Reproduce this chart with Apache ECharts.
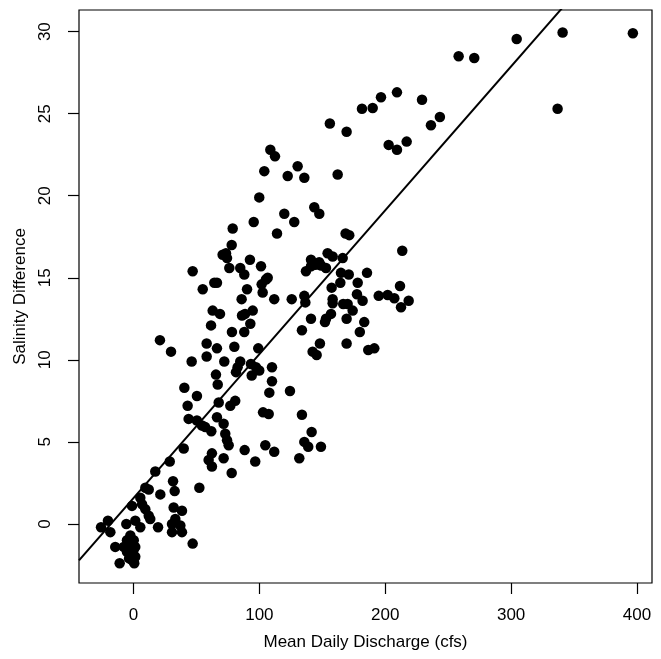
<!DOCTYPE html>
<html><head><meta charset="utf-8">
<script src="https://cdn.jsdelivr.net/npm/echarts@6/dist/echarts.min.js"></script>
<style>html,body{margin:0;padding:0;background:#fff}#c{width:661px;height:659px}</style>
</head><body><div id="c"></div>
<script>
// Mean daily discharge (cfs) of each observation
const dischargeX = [
  -25.8,-20.3,-18.4,-14.5,-11,-7.8,-5.7,-5.2,-5.2,-2.5,-2.5,-1.2,-1.2,0.2,1.4,1.4,0.6,-1.2,1.4,5.4,
  5.4,6.8,9.4,12.1,13.3,9.4,12.1,19.5,21.3,17.3,28.8,31.4,32.7,31.9,38.5,33.2,30.6,37.2,30.6,38.5,
  47,52.3,-3.5,0,
  39.9,43,43.8,50.4,54.4,57,61.8,66.3,67.7,71.6,72.9,74.3,75.6,76.9,80.8,62.3,59.7,62.3,71.6,78,
  88.3,96.7,104.7,111.8,102.9,107.4,133.8,141.5,135.7,138.8,148.9,131.7,50.4,40.4,
  66.9,65.5,107.9,124.3,110,110,93.3,97.3,99.9,93.9,84.8,82.7,81.4,72.1,46.2,58.1,58.1,66.3,80.1,99.1,
  29.8,21,78.2,88,61.6,92.8,86.2,88.6,62.9,68.7,94.7,85.9,111.8,125.7,135.7,136.5,133.8,141,148.1,142.3,
  145.5,152.9,152.1,156.9,169.3,183.3,179.8,169.3,186.5,191.3,158.2,158.2,166.6,170.1,174.1,177.5,182,194.8,201.9,207.2,
  218.6,212.5,
  55,64.2,66.3,90.2,102.6,101.8,105.2,106.6,47,76.1,84.8,88,101.3,92.5,70.8,74.3,73.5,78,78.8,114,
  137,141,141,144.5,147.5,149,152.9,154.2,158.2,166.2,164.8,171,185.5,178.1,164.3,157.4,211.7,213.5,168.5,171.4,
  95.5,127.7,119.8,143.6,147.6,99.9,103.9,122.5,130.4,135.7,162.2,108.7,112.4,169.3,156,202.7,209.3,217,236.3,243.4,
  229.2,181.5,190,196.6,209.3,258.3,270.7,304.4,340.9,336.9,396.7
];
// Salinity difference of each observation
const salinityY = [
  -0.2,0.2,-0.5,-1.4,-2.4,-1.4,0.0,-1.0,-1.7,-0.7,-1.4,-1.8,-2.2,-1.0,-1.4,-2.0,-2.4,1.1,0.2,-0.2,
  1.6,1.2,0.9,0.5,0.3,2.2,2.1,-0.2,1.8,3.2,3.8,2.6,2.0,1.0,0.8,0.3,0.0,-0.1,-0.5,-0.5,
  -1.2,2.2,-2.1,-1.6,
  4.6,7.2,6.4,6.3,6.0,5.9,5.65,6.5,7.4,6.1,5.5,5.1,4.8,7.2,7.5,4.3,3.9,3.5,4.0,3.1,
  4.5,3.8,4.8,4.4,6.8,6.7,6.65,5.6,5.0,4.7,4.7,4.0,7.8,8.3,
  8.5,9.1,8.0,8.1,8.7,9.55,9.75,9.55,9.35,9.05,9.9,9.55,9.25,9.9,9.9,10.2,11.0,10.7,10.8,10.7,
  10.5,11.2,11.7,11.7,12.1,12.2,12.7,12.8,13.0,12.8,13.0,13.7,13.7,13.7,13.9,13.5,11.8,12.5,11.0,10.5,
  10.3,12.5,12.3,12.8,12.5,12.3,11.7,11.0,10.6,10.7,13.7,13.45,13.4,13.4,13.0,14.0,13.6,13.9,13.95,13.75,
  13.6,13.2,
  14.3,14.7,14.7,14.3,14.1,14.6,14.9,15.0,15.4,15.6,15.6,15.2,15.7,16.1,16.4,16.2,16.5,17.0,18.0,17.7,
  15.4,16.1,15.7,15.8,15.95,15.75,15.6,16.5,16.3,16.2,15.3,15.2,15.3,14.7,14.7,14.4,14.5,16.65,17.7,17.6,
  18.4,18.4,18.9,19.3,18.9,19.9,21.5,21.2,21.8,21.1,21.3,22.8,22.4,23.9,24.4,23.1,22.8,23.3,24.3,24.8,
  25.85,25.3,25.35,26.0,26.3,28.5,28.4,29.55,29.95,25.3,29.9
];
const xTicks = [0, 100, 200, 300, 400];
const yTicks = [0, 5, 10, 15, 20, 25, 30];
const fitIntercept = 1.575;
const fitSlope = 0.0877;
const xTitle = 'Mean Daily Discharge (cfs)';
const yTitle = 'Salinity Difference';

const xMin = -43.3, xMax = 411.9, yMin = -3.6, yMax = 31.32;
const points = dischargeX.map((x, i) => [x, salinityY[i]]);
const fitLine = [xMin, xMax].map(x => [x, fitIntercept + fitSlope * x]);

const font = 'Liberation Sans, Arial, sans-serif';
const chart = echarts.init(document.getElementById('c'), null, {renderer: 'canvas'});
chart.setOption({
  animation: false,
  backgroundColor: '#fff',
  grid: {left: 79, top: 10, width: 573, height: 573, show: true, borderColor: '#000', borderWidth: 1.2, containLabel: false},
  xAxis: {
    type: 'value', min: xMin, max: xMax, position: 'bottom',
    axisLine: {show: false, onZero: false},
    axisTick: {show: true, inside: false, length: 11, customValues: xTicks, lineStyle: {color: '#000', width: 1.2}},
    axisLabel: {customValues: xTicks, color: '#000', fontSize: 17, fontFamily: font, margin: 24},
    splitLine: {show: false},
    name: xTitle, nameLocation: 'middle', nameGap: 51,
    nameTextStyle: {color: '#000', fontSize: 17, fontFamily: font}
  },
  yAxis: {
    type: 'value', min: yMin, max: yMax, position: 'left',
    axisLine: {show: false, onZero: false},
    axisTick: {show: true, inside: false, length: 11, customValues: yTicks, lineStyle: {color: '#000', width: 1.2}},
    axisLabel: {customValues: yTicks, color: '#000', fontSize: 17, fontFamily: font, margin: 25, rotate: 90},
    splitLine: {show: false},
    name: yTitle, nameLocation: 'middle', nameGap: 45,
    nameTextStyle: {color: '#000', fontSize: 17, fontFamily: font}
  },
  series: [
    {type: 'scatter', data: points, symbol: 'circle', symbolSize: 10.5, itemStyle: {color: '#000', opacity: 1}, z: 2},
    {type: 'line', data: fitLine, showSymbol: false, symbol: 'none', clip: true,
     lineStyle: {color: '#000', width: 2}, z: 3}
  ]
});
</script>
</body></html>
